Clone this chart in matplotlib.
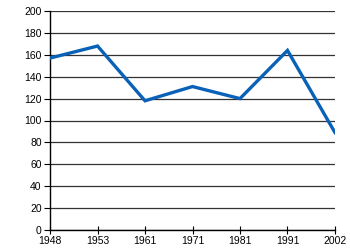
import matplotlib.pyplot as plt
import numpy as np

years = ["1948", "1953", "1961", "1971", "1981", "1991", "2002"]
values = [157, 168, 118, 131, 120, 164, 89]

plt.rcParams['font.family'] = ['Liberation Sans', 'DejaVu Sans']

fig = plt.figure(figsize=(3.5, 2.5), dpi=100)
ax = fig.add_axes([0.143, 0.08, 0.814, 0.876])

x = np.arange(len(years))
ax.plot(x, values, color="#0a62b8", linewidth=2.4, solid_joinstyle="miter", zorder=3)

ax.set_xlim(0, len(years) - 1)
ax.set_ylim(0, 200)
ax.set_yticks(range(0, 201, 20))
ax.set_xticks(x)
ax.set_xticklabels(years)

ax.yaxis.grid(True, color="#333333", linewidth=0.9)
ax.set_axisbelow(True)

ax.spines["top"].set_visible(False)
ax.spines["right"].set_visible(False)
ax.spines["left"].set_linewidth(1.0)
ax.spines["bottom"].set_linewidth(1.0)

ax.tick_params(axis="y", length=4, width=0.8, labelsize=7.5, pad=2)
ax.tick_params(axis="x", direction="inout", length=6, width=0.8, labelsize=7.5, pad=1)

fig.savefig("out.png", dpi=100)
